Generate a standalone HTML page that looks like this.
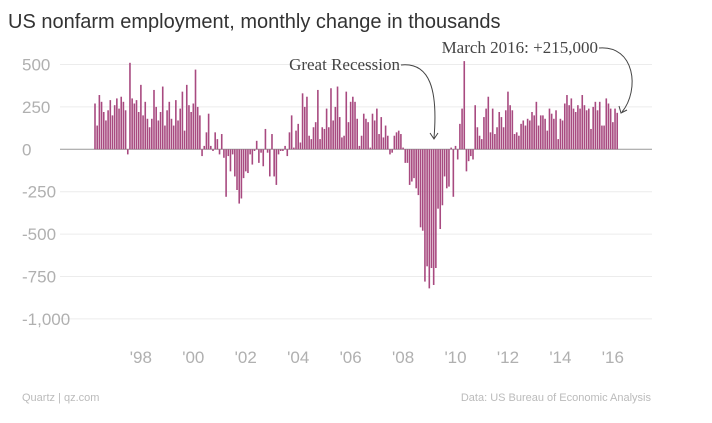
<!DOCTYPE html>
<html><head><meta charset="utf-8">
<style>
body{margin:0;background:#fff;}
svg text{font-family:"Liberation Sans",sans-serif;}
</style></head>
<body>
<svg id="chart" width="712" height="418" xmlns="http://www.w3.org/2000/svg">
<rect width="712" height="418" fill="#fff"/>
<text x="8" y="28" font-size="20" fill="#333">US nonfarm employment, monthly change in thousands</text>
<g id="grid"></g>
<g id="bars"></g>
<g id="xlabels"></g>
<text x="400" y="70" font-size="17" fill="#444" text-anchor="end" style="font-family:'Liberation Serif',serif">Great Recession</text>
<path d="M401,65 C430,62 438,90 434,138" fill="none" stroke="#444" stroke-width="1"/>
<path d="M430,133 L434,139 L438,133" fill="none" stroke="#444" stroke-width="1"/>
<text x="598" y="53" font-size="17" fill="#444" text-anchor="end" style="font-family:'Liberation Serif',serif">March 2016: +215,000</text>
<path d="M599,48 C635,45 640,90 622,112" fill="none" stroke="#444" stroke-width="1"/>
<path d="M619,106 L621,113 L627,110" fill="none" stroke="#444" stroke-width="1"/>
<text x="22" y="401" font-size="11" fill="#bbb">Quartz | qz.com</text>
<text x="651" y="401" font-size="11" fill="#bbb" text-anchor="end">Data: US Bureau of Economic Analysis</text>
</svg>
<script>
const yTicks=[500,250,0,-250,-500,-750,-1000];
const yTickLabels=["500","250","0","-250","-500","-750","-1,000"];
const xTickYears=["'98","'00","'02","'04","'06","'08","'10","'12","'14","'16"];
const xTickIndex=[21,45,69,93,117,141,165,189,213,237];
const y1996=[270,140,320,280,220,170,230,290,200];
const y1997=[260,300,240,310,280,230,-30,510,300,270,290,220];
const y1998=[380,200,280,180,130,180,350,250,170,220,370,140];
const y1999=[230,280,180,140,290,170,240,340,110,380,260,220];
const y2000=[270,470,250,200,-40,20,100,210,20,-10,100,60];
const y2001=[-30,90,-50,-280,-40,-130,-30,-160,-240,-320,-290,-170];
const y2002=[-130,-140,-30,-90,-10,50,-80,-20,-100,120,-20,-160];
const y2003=[90,-160,-210,-30,-10,-10,20,-40,100,200,10,110];
const y2004=[150,40,330,250,310,80,60,130,160,350,60,130];
const y2005=[120,240,130,360,170,250,370,190,70,80,340,160];
const y2006=[280,310,280,180,20,80,210,180,160,10,210,170];
const y2007=[240,90,190,70,140,80,-30,-20,80,100,110,90];
const y2008=[10,-80,-80,-210,-190,-170,-230,-270,-460,-480,-780,-690];
const y2009=[-820,-700,-800,-700,-350,-470,-330,-160,-230,-220,10,-280];
const y2010=[20,-60,150,240,520,-130,-70,-40,-60,260,130,80];
const y2011=[60,190,240,310,100,240,90,130,220,190,130,230];
const y2012=[340,260,230,90,100,80,150,170,140,180,170,220];
const y2013=[200,280,140,200,200,180,110,240,210,180,230,60];
const y2014=[180,170,270,320,260,300,240,220,260,240,320,260];
const y2015=[230,240,120,250,280,230,280,140,140,300,270,240];
const y2016=[160,240,215];
const values=[].concat(y1996,y1997,y1998,y1999,y2000,y2001,y2002,y2003,y2004,y2005,y2006,y2007,y2008,y2009,y2010,y2011,y2012,y2013,y2014,y2015,y2016);

const NS="http://www.w3.org/2000/svg";
const y0=149.3, k=0.1696;
function yScale(v){return y0-v*k;}
const x0=95, step=2.185;
function xScale(i){return x0+i*step;}

const grid=document.getElementById('grid');
yTicks.forEach((t,i)=>{
  const l=document.createElementNS(NS,'line');
  
  
  l.setAttribute('x1',60);l.setAttribute('x2',652);
  l.setAttribute('y1',yScale(t));l.setAttribute('y2',yScale(t));
  l.setAttribute('stroke',t===0?'#999':'#ececec');
  l.setAttribute('stroke-width',1);
  grid.appendChild(l);
  const tx=document.createElementNS(NS,'text');
  
  
  tx.setAttribute('x',22);tx.setAttribute('y',yScale(t)+6);
  tx.setAttribute('font-size',17);tx.setAttribute('fill','#b0b0b0');
  tx.textContent=yTickLabels[i];
  grid.appendChild(tx);
});
const bars=document.getElementById('bars');
values.forEach((v,i)=>{
  const r=document.createElementNS(NS,'rect');
  
  
  const yv=yScale(v);
  r.setAttribute('x',xScale(i)-0.8);
  r.setAttribute('width',1.6);
  r.setAttribute('y',Math.min(yv,y0));
  r.setAttribute('height',Math.abs(yv-y0));
  r.setAttribute('fill','#a84a80');
  bars.appendChild(r);
});
const xl=document.getElementById('xlabels');
xTickYears.forEach((lab,i)=>{
  const tx=document.createElementNS(NS,'text');
  
  
  tx.setAttribute('x',xScale(xTickIndex[i]));tx.setAttribute('y',363);
  tx.setAttribute('font-size',17);tx.setAttribute('fill','#b0b0b0');
  tx.setAttribute('text-anchor','middle');
  tx.textContent=lab;
  xl.appendChild(tx);
});
</script>
</body></html>
